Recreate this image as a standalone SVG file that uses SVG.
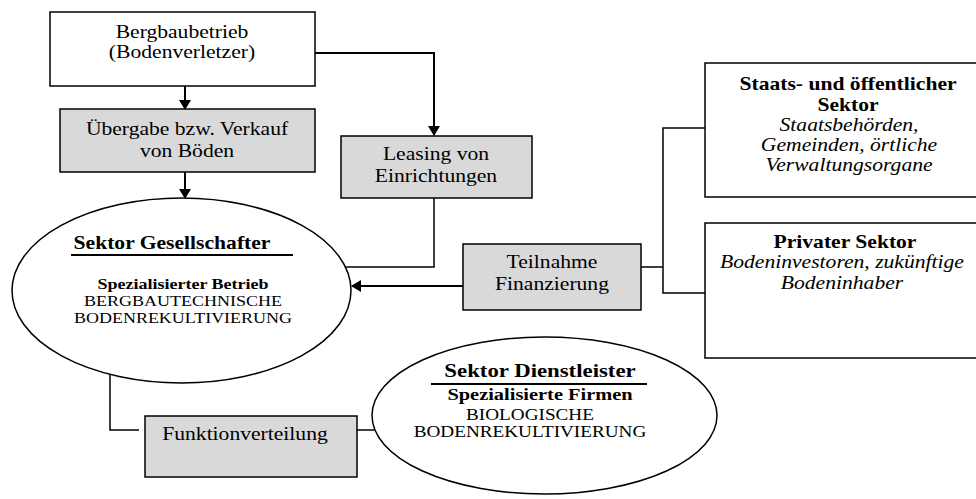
<svg xmlns="http://www.w3.org/2000/svg" width="976" height="499" viewBox="0 0 976 499">
<defs>
<style>
.t{font-family:"Liberation Serif","Times New Roman",serif;font-size:18px;text-anchor:middle;fill:#000}
.b{font-weight:bold}
.i{font-style:italic}
.s15{font-size:15px}
.s16{font-size:16px}
.s17{font-size:17px}
.s19{font-size:19px}
.box{fill:#fff;stroke:#000;stroke-width:1.5}
.gray{fill:#d9d9d9;stroke:#000;stroke-width:1.5}
.ell{fill:#fff;stroke:#000;stroke-width:1.5}
.conn{fill:none;stroke:#000;stroke-width:1.5}
.arr{fill:none;stroke:#000;stroke-width:2;marker-end:url(#ah)}
.ul{stroke:#000;stroke-width:2}
</style>
<marker id="ah" viewBox="0 0 10 12" markerWidth="10" markerHeight="12" refX="9" refY="6" orient="auto" markerUnits="userSpaceOnUse">
<path d="M0,0 L10,6 L0,12 z" fill="#000"/>
</marker>
</defs>

<g id="connectors">
<path class="arr" d="M185,86 L185,109"/>
<path class="arr" d="M185,172 L185,198"/>
<path class="arr" d="M315,53 L434,53 L434,135"/>
<path class="conn" d="M434,198 L434,267 L345,267"/>
<path class="arr" d="M463,286 L352,286"/>
<path class="conn" d="M641,267 L663,267"/>
<path class="conn" d="M705,128 L663,128 L663,293 L705,293"/>
<path class="conn" d="M110,374 L110,430 L139,430"/>
<path class="conn" d="M357,430 L375,430"/>
</g>

<g id="bergbaubetrieb">
<rect class="box" x="50" y="12" width="265" height="74"/>
<text class="t" transform="translate(182 38) scale(1.2 1)"><tspan x="0">Bergbaubetrieb</tspan><tspan x="0" dy="20">(Bodenverletzer)</tspan></text>
</g>

<g id="uebergabe">
<rect class="gray" x="60" y="109" width="255" height="63"/>
<text class="t" transform="translate(187 135) scale(1.2 1)"><tspan x="0">Übergabe bzw. Verkauf</tspan><tspan x="0" dy="22">von Böden</tspan></text>
</g>

<g id="leasing">
<rect class="gray" x="341" y="136" width="191" height="62"/>
<text class="t" transform="translate(436 160) scale(1.2 1)"><tspan x="0">Leasing von</tspan><tspan x="0" dy="22">Einrichtungen</tspan></text>
</g>

<g id="gesellschafter">
<ellipse class="ell" cx="181.5" cy="290.5" rx="169.5" ry="92.5"/>
<text class="t b" transform="translate(172 249) scale(1.2 1)">Sektor Gesellschafter</text>
<line class="ul" x1="71" y1="255" x2="293" y2="255"/>
<text class="t b s15" transform="translate(183 289) scale(1.2 1)">Spezialisierter Betrieb</text>
<text class="t s15" transform="translate(183 306) scale(1.2 1)"><tspan x="0">BERGBAUTECHNISCHE</tspan><tspan x="0" dy="17">BODENREKULTIVIERUNG</tspan></text>
</g>

<g id="teilnahme">
<rect class="gray" x="463" y="244" width="178" height="66"/>
<text class="t" transform="translate(552 268) scale(1.2 1)"><tspan x="0">Teilnahme</tspan><tspan x="0" dy="22">Finanzierung</tspan></text>
</g>

<g id="staat">
<rect class="box" x="705" y="63" width="278" height="134"/>
<text class="t b" transform="translate(848 90) scale(1.2 1)"><tspan x="0">Staats- und öffentlicher</tspan><tspan x="0" dy="21">Sektor</tspan></text>
<text class="t i" transform="translate(849 131) scale(1.2 1)"><tspan x="0">Staatsbehörden,</tspan><tspan x="0" dy="20">Gemeinden, örtliche</tspan><tspan x="0" dy="20">Verwaltungsorgane</tspan></text>
</g>

<g id="privat">
<rect class="box" x="705" y="223" width="278" height="135"/>
<text class="t b" transform="translate(845 248) scale(1.2 1)">Privater Sektor</text>
<text class="t i" transform="translate(842 268) scale(1.2 1)"><tspan x="0">Bodeninvestoren, zukünftige</tspan><tspan x="0" dy="21">Bodeninhaber</tspan></text>
</g>

<g id="funktion">
<rect class="gray" x="145" y="416" width="212" height="61"/>
<text class="t" transform="translate(245 440) scale(1.2 1)">Funktionverteilung</text>
</g>

<g id="dienstleister">
<ellipse class="ell" cx="544.5" cy="415.5" rx="172.5" ry="78.5"/>
<text class="t b s19" transform="translate(540 377) scale(1.2 1)">Sektor Dienstleister</text>
<line class="ul" x1="431" y1="384" x2="647" y2="384"/>
<text class="t b s17" transform="translate(540 400) scale(1.2 1)">Spezialisierte Firmen</text>
<text class="t s16" transform="translate(530 420) scale(1.2 1)"><tspan x="0">BIOLOGISCHE</tspan><tspan x="0" dy="17">BODENREKULTIVIERUNG</tspan></text>
</g>
</svg>
